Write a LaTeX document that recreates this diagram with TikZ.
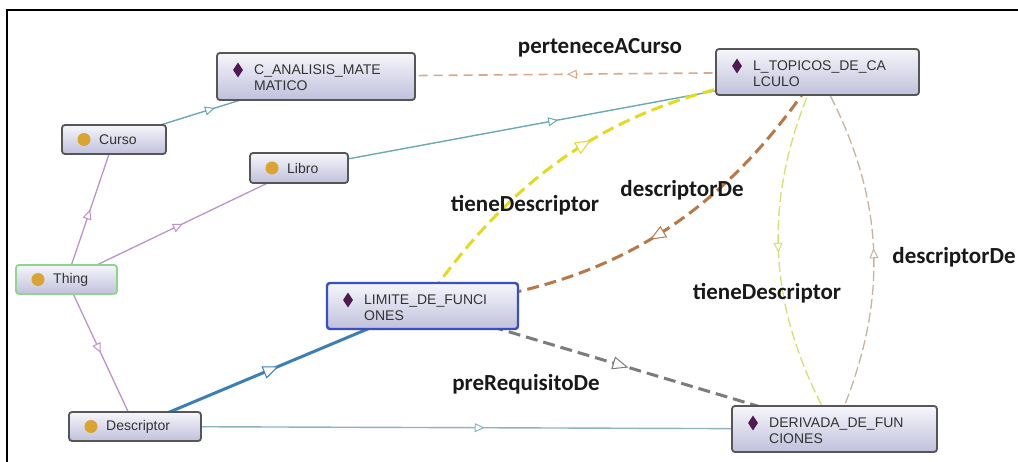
\documentclass[tikz,border=0pt]{standalone}
\usepackage{fontspec}
\setmainfont{Liberation Sans}
\newfontfamily\lblfont{Carlito}
\usetikzlibrary{arrows.meta,decorations.markings,shapes.geometric,calc}
\pgfdeclarelayer{bg}
\pgfsetlayers{bg,main}
\definecolor{nodetop}{HTML}{F6F6FB}
\definecolor{nodebot}{HTML}{C0C0DC}
\definecolor{nodeborder}{HTML}{565656}
\definecolor{thingborder}{HTML}{8FD48F}
\definecolor{selborder}{HTML}{3A4FC0}
\definecolor{dotcol}{HTML}{D9A530}
\definecolor{indcol}{HTML}{4E1A50}
\definecolor{txtcol}{HTML}{333333}
\definecolor{subcol}{HTML}{BC94CC}
\definecolor{tealcol}{HTML}{6CA8B8}
\definecolor{steelcol}{HTML}{8DB3C3}
\definecolor{bluecol}{HTML}{3D7FB5}
\definecolor{pertcol}{HTML}{D9A98A}
\definecolor{yellowcol}{HTML}{E4DA1E}
\definecolor{browncol}{HTML}{B8794A}
\definecolor{graycol}{HTML}{7C7C7C}
\definecolor{ygcol}{HTML}{D6E070}
\definecolor{tancol}{HTML}{C9B29E}
\tikzset{
  obj/.style={draw=nodeborder, line width=1.8pt, rounded corners=3pt,
    top color=nodetop, bottom color=nodebot, inner sep=0pt, outer sep=0pt},
  clsdot/.style={circle, fill=dotcol, minimum size=13pt, inner sep=0pt},
  indmark/.style={diamond, fill=indcol, minimum width=10pt, minimum height=15pt, inner sep=0pt},
  txt/.style={font=\fontsize{14}{16}\selectfont, text=txtcol, inner sep=0pt, anchor=west, align=left},
  lbl/.style={font=\lblfont\bfseries\fontsize{23}{26}\selectfont, text=black!90, inner sep=0pt},
  midtri/.style 2 args={decoration={markings, mark=at position 0.5 with
    {\arrow{Triangle[fill=white, length=#1, width=#2, line width=1pt]}}}, postaction=decorate},
  thinmid/.style={midtri={10pt}{9pt}},
  thickmid/.style={midtri={16pt}{13pt}},
  subline/.style={draw=subcol, line width=1.3pt, thinmid},
  tealline/.style={draw=tealcol, line width=1.4pt, thinmid},
  steelline/.style={draw=steelcol, line width=1.4pt, thinmid},
  blueline/.style={draw=bluecol, line width=3pt, thickmid},
  pertline/.style={draw=pertcol, line width=1.6pt, dash pattern=on 9pt off 6pt, thinmid},
  yellowline/.style={draw=yellowcol, line width=3pt, dash pattern=on 12pt off 6pt, thickmid},
  brownline/.style={draw=browncol, line width=3pt, dash pattern=on 12pt off 6pt, thickmid},
  grayline/.style={draw=graycol, line width=3pt, dash pattern=on 12pt off 6pt, thickmid},
  ygline/.style={draw=ygcol, line width=1.3pt, dash pattern=on 10pt off 4pt, thinmid},
  tanline/.style={draw=tancol, line width=1.3pt, dash pattern=on 10pt off 4pt, thinmid},
}
\begin{document}
\begin{tikzpicture}[x=1pt,y=-1pt]
\useasboundingbox (0,0) rectangle (1018,462);
\begin{pgfonlayer}{bg}
\fill[white] (0,0) rectangle (1018,462);
\end{pgfonlayer}
\draw[line width=2pt, black] (7,462) -- (7,10) -- (1018,10);

% nodes
\node[obj, minimum width=198pt, minimum height=47pt] (canal) at (316,76.5) {};
\node[obj, minimum width=104pt, minimum height=29pt] (curso) at (114,139.5) {};
\node[obj, minimum width=98pt, minimum height=30pt] (libro) at (299,168) {};
\node[obj, minimum width=203pt, minimum height=46pt] (ltop) at (817.5,72) {};
\node[obj, draw=selborder, line width=2.4pt, minimum width=191pt, minimum height=46pt] (limite) at (422.5,306) {};
\node[obj, draw=thingborder, minimum width=101pt, minimum height=29pt] (thing) at (66.5,279.5) {};
\node[obj, minimum width=132pt, minimum height=29pt] (desc) at (135,426.5) {};
\node[obj, minimum width=205pt, minimum height=46pt] (deriv) at (834.5,429) {};

% icons
\node[clsdot] (curso-i) at ($(curso.west)+(22,0)$) {};
\node[clsdot] (libro-i) at ($(libro.west)+(22,0)$) {};
\node[clsdot] (thing-i) at ($(thing.west)+(22,0)$) {};
\node[clsdot] (desc-i) at ($(desc.west)+(22,0)$) {};
\node[indmark] (canal-i) at ($(canal.north west)+(21,17)$) {};
\node[indmark] (ltop-i) at ($(ltop.north west)+(21,17)$) {};
\node[indmark] (limite-i) at ($(limite.north west)+(21,17)$) {};
\node[indmark] (deriv-i) at ($(deriv.north west)+(21,17)$) {};

% texts
\node[txt] (curso-t) at ($(curso.west)+(37,0.5)$) {Curso};
\node[txt] (libro-t) at ($(libro.west)+(37,0.5)$) {Libro};
\node[txt] (thing-t) at ($(thing.west)+(37,0.5)$) {Thing};
\node[txt] (desc-t) at ($(desc.west)+(37,0.5)$) {Descriptor};
\node[txt] (canal-t) at ($(canal.west)+(37,1.5)$) {C\_ANALISIS\_MATE\\MATICO};
\node[txt] (ltop-t) at ($(ltop.west)+(37,1.5)$) {L\_TOPICOS\_DE\_CA\\LCULO};
\node[txt] (limite-t) at ($(limite.west)+(37,1.5)$) {LIMITE\_DE\_FUNCI\\ONES};
\node[txt] (deriv-t) at ($(deriv.west)+(37,1.5)$) {DERIVADA\_DE\_FUN\\CIONES};

% edges
\begin{pgfonlayer}{bg}
\draw[subline] (thing.center) -- (curso.center);
\draw[subline] (thing.center) -- (libro.center);
\draw[subline] (thing.center) -- (desc.center);
\draw[tealline] (curso.center) -- (canal.center);
\draw[tealline] (libro.center) -- (ltop.center);
\draw[steelline] (desc.center) -- (deriv.center);
\draw[blueline] (desc.center) -- (limite.center);
\draw[pertline] (ltop.center) -- (canal.center);
\draw[grayline] (limite.center) -- (deriv.center);
\draw[yellowline] (limite.center) to[bend left=25] (ltop.center);
\draw[brownline] (ltop.center) to[bend left=26] (limite.center);
\draw[ygline] (ltop.center) to[bend right=27] (deriv.center);
\draw[tanline] (deriv.center) to[bend right=27] (ltop.center);
\end{pgfonlayer}

% labels
\node[lbl] (l-pert) at (600,48) {perteneceACurso};
\node[lbl] (l-tiene1) at (525,205) {tieneDescriptor};
\node[lbl] (l-desc1) at (682,190) {descriptorDe};
\node[lbl] (l-tiene2) at (767,293) {tieneDescriptor};
\node[lbl] (l-desc2) at (954,257) {descriptorDe};
\node[lbl] (l-pre) at (526,384) {preRequisitoDe};
\end{tikzpicture}
\end{document}
